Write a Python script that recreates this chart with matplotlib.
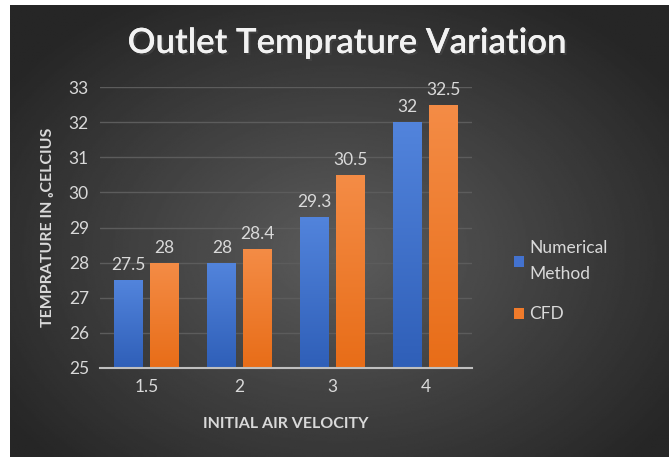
import numpy as np
import matplotlib.pyplot as plt
import matplotlib.patheffects as pe
from matplotlib.colors import LinearSegmentedColormap

# data
velocities = ["1.5", "2", "3", "4"]
numerical = [27.5, 28, 29.3, 32]
cfd = [28, 28.4, 30.5, 32.5]
yticks = [25, 26, 27, 28, 29, 30, 31, 32, 33]

plt.rcParams['font.family'] = ['Lato', 'DejaVu Sans']
txt = '#d9d9d9'

fig = plt.figure(figsize=(6.69, 4.57), dpi=100)
fig.patch.set_facecolor('white')

# dark radial background (white strip at left/top as in reference)
bg = fig.add_axes([10/669, 0, 1 - 10/669, 1 - 5/457])
yy, xx = np.mgrid[0:1:300j, 0:1:400j]
r = np.sqrt(((xx - 0.5) / 0.7) ** 2 + ((yy - 0.55) / 0.75) ** 2)
shade = np.clip(0.36 - 0.24 * r, 0.15, 0.36)
bg.imshow(shade, cmap='gray', vmin=0, vmax=1, aspect='auto', extent=[0, 1, 0, 1])
bg.axis('off')

ax = fig.add_axes([100/669, 1 - 368/457, 372/669, 281/457])
ax.patch.set_alpha(0)

x = np.arange(len(velocities))
w = 0.31
b1 = ax.bar(x - 0.19, np.array(numerical) - 25, w, bottom=25, color='#4372cf',
            label='Numerical\nMethod', zorder=3)
b2 = ax.bar(x + 0.19, np.array(cfd) - 25, w, bottom=25, color='#f07b2b',
            label='CFD', zorder=3)

# vertical gradient on bars (lighter at top)
grads = [LinearSegmentedColormap.from_list('b', ['#2f5fb8', '#5284dc']),
         LinearSegmentedColormap.from_list('o', ['#e86d18', '#f48c46'])]
g = np.linspace(0, 1, 100).reshape(-1, 1)
for bars, cm in zip((b1, b2), grads):
    for rect in bars:
        x0, y0 = rect.get_x(), rect.get_y()
        im = ax.imshow(g, cmap=cm, origin='lower', aspect='auto', zorder=3,
                       extent=[x0, x0 + rect.get_width(), y0, y0 + rect.get_height()])
        im.set_clip_path(rect)

for bars, vals in ((b1, numerical), (b2, cfd)):
    for rect, v in zip(bars, vals):
        ax.text(rect.get_x() + rect.get_width() / 2, v + 0.2, f"{v:g}",
                ha='center', va='bottom', color=txt, fontsize=12.5)

ax.set_xlim(-0.5, 3.5)
ax.set_ylim(25, 33)
ax.set_yticks(yticks)
ax.set_xticks(x)
ax.set_xticklabels(velocities)
ax.tick_params(colors=txt, labelsize=12.5, length=0, pad=8)
ax.grid(axis='y', color='#5c5c5c', linewidth=1, zorder=0)
for s in ['top', 'right', 'left']:
    ax.spines[s].set_visible(False)
ax.spines['bottom'].set_color('#bfbfbf')
ax.spines['bottom'].set_linewidth(1.5)
ax.spines['bottom'].set_zorder(4)

ax.set_xlabel('INITIAL AIR VELOCITY', color=txt, fontsize=11.5, fontweight='bold', labelpad=16)
ax.set_ylabel('TEMPRATURE IN ₒCELCIUS', color=txt, fontsize=11.5, fontweight='bold', labelpad=10)

fig.text(347/669, 1 - 43/457, 'Outlet Temprature Variation', ha='center', va='center',
         color='#f2f2f2', fontsize=25, fontweight='semibold',
         path_effects=[pe.withSimplePatchShadow(offset=(1.5, -1.5), alpha=0.6), pe.Normal()])

leg = ax.legend(loc='center left', bbox_to_anchor=(1.07, 0.31), frameon=False,
                fontsize=12.5, labelcolor=txt, handlelength=0.6, handleheight=0.6,
                handletextpad=0.3, labelspacing=1.4)
for t in leg.get_texts():
    t.set_linespacing(1.8)

fig.savefig('out.png', dpi=100)
